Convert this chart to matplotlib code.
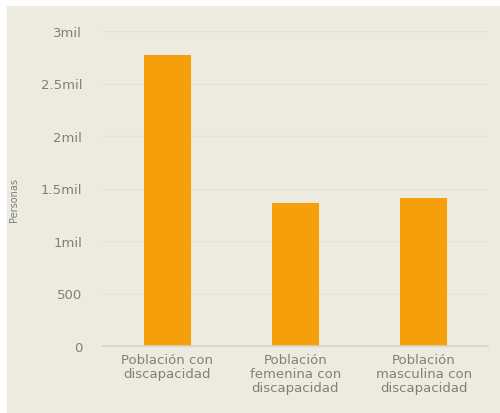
import matplotlib.pyplot as plt
from matplotlib.patches import Rectangle

categories = ["Población con\ndiscapacidad",
              "Población\nfemenina con\ndiscapacidad",
              "Población\nmasculina con\ndiscapacidad"]
values = [2770, 1360, 1405]
y_ticks = [0, 500, 1000, 1500, 2000, 2500, 3000]
y_tick_labels = ["0", "500", "1mil", "1.5mil", "2mil", "2.5mil", "3mil"]

bg = "#edeadf"
bar_color = "#f5a00a"
text_color = "#7f7f7c"

fig = plt.figure(figsize=(5, 4.14), dpi=100, facecolor=bg)
# white margin strips at top and left
fig.patches.append(Rectangle((0, 1 - 7 / 414), 1, 7 / 414, transform=fig.transFigure,
                             facecolor="white", edgecolor="none", zorder=0))
fig.patches.append(Rectangle((0, 0), 7 / 500, 1, transform=fig.transFigure,
                             facecolor="white", edgecolor="none", zorder=0))

ax = fig.add_axes([103 / 500, 1 - 347 / 414, 385 / 500, 315 / 414])
ax.set_facecolor(bg)

x = list(range(len(categories)))
ax.bar(x, values, width=0.366, color=bar_color, zorder=3)

ax.set_xlim(-0.5, 2.5)
ax.set_ylim(0, 3000)
ax.set_yticks(y_ticks)
ax.set_yticklabels(y_tick_labels)
ax.set_xticks(x)
ax.set_xticklabels(categories, linespacing=1.1)

ax.grid(axis="y", color="#e4e1d5", linewidth=1, zorder=0)
for s in ["top", "right", "left"]:
    ax.spines[s].set_visible(False)
ax.spines["bottom"].set_color("#d6d4ca")
ax.spines["bottom"].set_linewidth(1.2)
ax.spines["bottom"].set_zorder(4)

ax.tick_params(axis="y", length=0, pad=15, labelsize=9.5, labelcolor=text_color)
ax.tick_params(axis="x", length=0, pad=5, labelsize=9.5, labelcolor=text_color)

fig.text(14 / 500, 1 - 200 / 414, "Personas", rotation=90, ha="center", va="center",
         fontsize=7, color=text_color)

fig.savefig("out.png", dpi=100, facecolor=bg)
